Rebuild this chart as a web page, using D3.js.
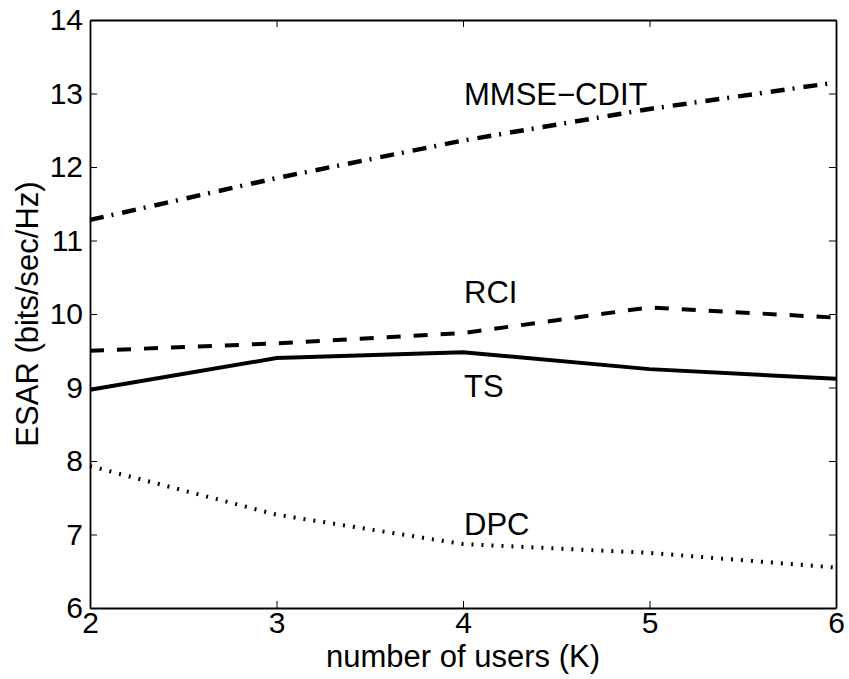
<!DOCTYPE html>
<html>
<head>
<meta charset="utf-8">
<script src="https://cdn.jsdelivr.net/npm/d3@7"></script>
<style>
body { margin: 0; background: #ffffff; }
svg { font-family: "Liberation Sans", Arial, sans-serif; }
</style>
</head>
<body>
<svg id="chart"></svg>
<script>
var width = 849;
var height = 679;

var margin = {top: 20, right: 13, bottom: 71, left: 90};

// number of users K
var users = [2, 3, 4, 5, 6];

// ESAR values (bits/sec/Hz)
var mmseCdit = [11.28, 11.85, 12.36, 12.79, 13.15];
var rci = [9.5, 9.6, 9.74, 10.09, 9.95];
var ts = [8.97, 9.4, 9.48, 9.25, 9.12];
var dpc = [7.93, 7.27, 6.87, 6.75, 6.55];

var xTicks = [2, 3, 4, 5, 6];
var yTicks = [6, 7, 8, 9, 10, 11, 12, 13, 14];

var seriesNames = ["MMSE\u2212CDIT", "RCI", "TS", "DPC"];
var labelX = [4, 4, 4, 4];
var labelY = [12.84, 10.15, 8.87, 6.99];

var svg = d3.select("#chart")
.attr("width", width)
.attr("height", height);

var x = d3.scaleLinear()
.domain([2, 6])
.range([margin.left, width - margin.right]);

var y = d3.scaleLinear()
.domain([6, 14])
.range([height - margin.bottom, margin.top]);

function styleAxis(g) {
	g.select(".domain").attr("stroke", "#000").attr("stroke-width", 1.8);
	g.selectAll(".tick line").attr("stroke", "#000").attr("stroke-width", 1);
	g.selectAll("text")
	.attr("fill", "#000")
	.style("font-size", "30px")
	.style("font-family", "'Liberation Sans', Arial, sans-serif");
}

svg.append("g")
.attr("transform", "translate(0," + y(6) + ")")
.call(d3.axisBottom(x).tickValues(xTicks).tickFormat(d3.format("d"))
	.tickSizeInner(-7).tickSizeOuter(0).tickPadding(4))
.call(styleAxis);

svg.append("g")
.attr("transform", "translate(0," + y(14) + ")")
.call(d3.axisTop(x).tickValues(xTicks).tickSizeInner(-7).tickSizeOuter(0).tickFormat(""))
.call(styleAxis);

svg.append("g")
.attr("transform", "translate(" + x(2) + ",0)")
.call(d3.axisLeft(y).tickValues(yTicks).tickFormat(d3.format("d"))
	.tickSizeInner(-7).tickSizeOuter(0).tickPadding(7))
.call(styleAxis);

svg.append("g")
.attr("transform", "translate(" + x(6) + ",0)")
.call(d3.axisRight(y).tickValues(yTicks).tickSizeInner(-7).tickSizeOuter(0).tickFormat(""))
.call(styleAxis);

var line = d3.line()
.x(function (d, i) { return x(users[i]); })
.y(function (d) { return y(d); });

var series = [
	{values: mmseCdit, dash: "14,8,2,9", w: 4.5},
	{values: rci, dash: "14,13", w: 4},
	{values: ts, dash: null, w: 4},
	{values: dpc, dash: "2,8", w: 4}
];

svg.selectAll(".series")
.data(series)
.enter().append("path")
.attr("class", "series")
.attr("d", function (d) { return line(d.values); })
.attr("fill", "none")
.attr("stroke", "#000")
.attr("stroke-width", function (d) { return d.w; })
.attr("stroke-dasharray", function (d) { return d.dash; });

svg.selectAll(".label")
.data(seriesNames)
.enter().append("text")
.attr("class", "label")
.attr("x", function (d, i) { return x(labelX[i]) + 1; })
.attr("y", function (d, i) { return y(labelY[i]); })
.style("font-size", "31px")
.text(function (d) { return d; });

svg.append("text")
.attr("x", (x(2) + x(6)) / 2)
.attr("y", 667)
.attr("text-anchor", "middle")
.style("font-size", "31px")
.text("number of users (K)");

svg.append("text")
.attr("transform", "translate(38," + ((y(6) + y(14)) / 2) + ") rotate(-90)")
.attr("text-anchor", "middle")
.style("font-size", "31px")
.text("ESAR (bits/sec/Hz)");
</script>
</body>
</html>
